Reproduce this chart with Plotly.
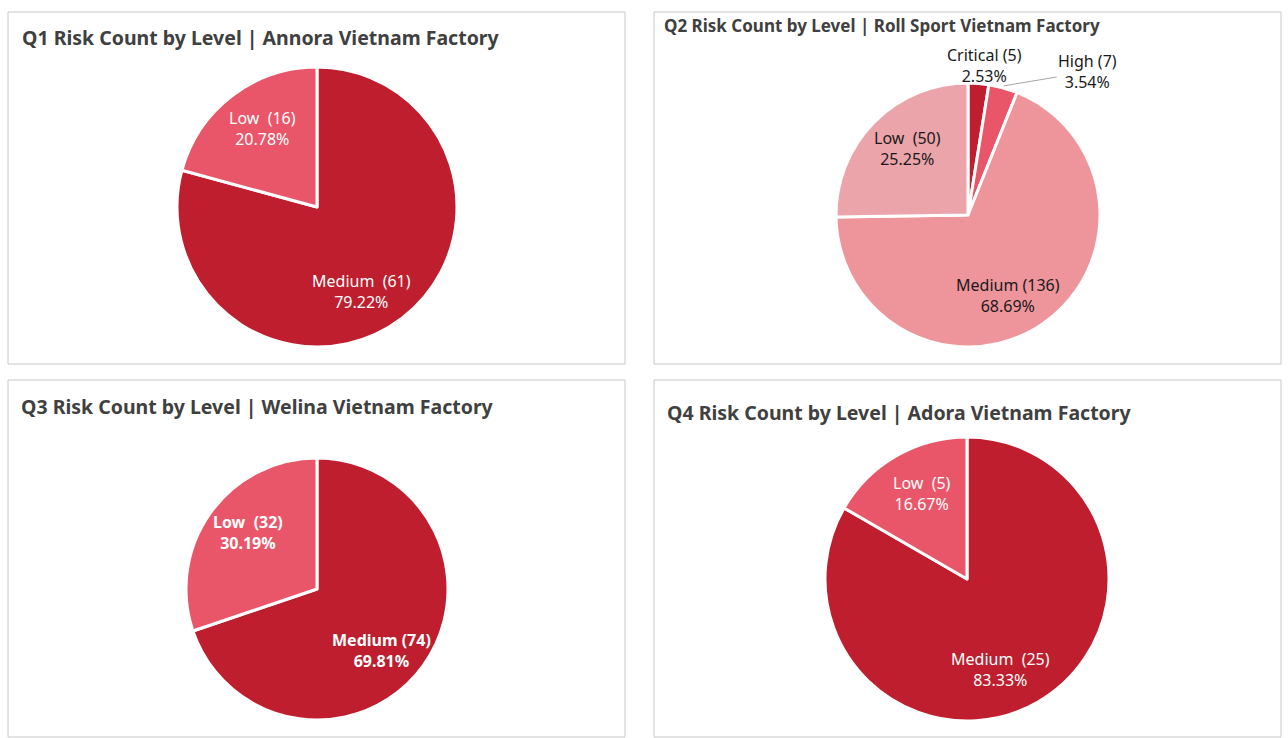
import math
import plotly.graph_objects as go

W, H = 1288, 738

# ---- data ----
q1_levels = ['Medium', 'Low']
q1_counts = [61, 16]
q2_levels = ['Critical', 'High', 'Medium', 'Low']
q2_counts = [5, 7, 136, 50]
q3_levels = ['Medium', 'Low']
q3_counts = [74, 32]
q4_levels = ['Medium', 'Low']
q4_counts = [25, 5]

titles = [
    'Q1 Risk Count by Level | Annora Vietnam Factory',
    'Q2 Risk Count by Level | Roll Sport Vietnam Factory',
    'Q3 Risk Count by Level | Welina Vietnam Factory',
    'Q4 Risk Count by Level | Adora Vietnam Factory',
]

# ---- styles ----
DARK = '#BE1E2D'
LOW = '#E9566A'
q2_colors = ['#BE1E2D', '#E9566A', '#EE949B', '#EBA4AA']
FONT = 'Noto Sans'
SP1 = ' '
SP2 = '\u00a0\u00a0'

# panel boxes in pixels (x0, y0, x1, y1)
panels = [(8, 12, 625, 364), (654, 12, 1281, 364), (8, 380, 625, 737), (654, 380, 1281, 737)]
# pie centers / radius in pixels
pies = [(317, 207, 140), (968, 215, 132), (317, 589, 131), (967, 579, 142)]
# title anchor (left x, center y, size)
title_pos = [(20, 38, 19.5), (662, 26, 17), (19, 406, 19.5), (665, 412, 19.5)]

charts = [
    dict(levels=q1_levels, counts=q1_counts, colors=[DARK, LOW], gaps=[SP2, SP2],
         color='white', bold=False, outside=[]),
    dict(levels=q2_levels, counts=q2_counts, colors=q2_colors, gaps=[SP1, SP1, SP1, SP2],
         color='#1a1a1a', bold=False, outside=[0, 1]),
    dict(levels=q3_levels, counts=q3_counts, colors=[DARK, LOW], gaps=[SP1, SP2],
         color='white', bold=True, outside=[]),
    dict(levels=q4_levels, counts=q4_counts, colors=[DARK, LOW], gaps=[SP2, SP2],
         color='white', bold=False, outside=[]),
]


def dom(cx, cy, r):
    return dict(x=[(cx - r) / W, (cx + r) / W], y=[1 - (cy + r) / H, 1 - (cy - r) / H])


fig = go.Figure()
annotations = []

for ch, (cx, cy, r) in zip(charts, pies):
    fig.add_trace(go.Pie(
        labels=ch['levels'], values=ch['counts'], sort=False, direction='clockwise', rotation=0,
        marker=dict(colors=ch['colors'], line=dict(color='white', width=3)),
        textinfo='none', domain=dom(cx, cy, r), showlegend=False,
        hoverinfo='label+value+percent',
    ))

    # data labels placed near each slice's mid angle (best-fit style)
    total = sum(ch['counts'])
    start = 0.0
    for i, (lvl, cnt) in enumerate(zip(ch['levels'], ch['counts'])):
        share = cnt / total
        span = share * 360
        mid = math.radians(start + span / 2)
        start += span
        txt = f"{lvl}{ch['gaps'][i]}({cnt})<br>{share * 100:.2f}%"
        if ch['bold']:
            txt = '<b>' + txt + '</b>'
        font = dict(family=FONT, size=16, color=ch['color'])
        if i in ch['outside']:
            ex = cx + (r + 2) * math.sin(mid)
            ey = cy - (r + 2) * math.cos(mid)
            if i == 0:
                annotations.append(dict(text=txt, xref='paper', yref='paper',
                                        x=ex / W, y=1 - ey / H, xanchor='center', yanchor='bottom',
                                        xshift=6, yshift=-8, showarrow=False, font=font, align='center'))
            else:
                annotations.append(dict(text=txt, xref='paper', yref='paper',
                                        x=ex / W, y=1 - ey / H, ax=84, ay=-14, axref='pixel',
                                        showarrow=True, arrowhead=0, arrowwidth=1,
                                        arrowcolor='#A6A6A6', font=font, align='center'))
        else:
            ang = mid + math.radians(12 * share)
            lx = cx + 0.68 * r * math.sin(ang)
            ly = cy - 0.68 * r * math.cos(ang)
            annotations.append(dict(text=txt, xref='paper', yref='paper',
                                    x=lx / W, y=1 - ly / H, xanchor='center', yanchor='middle',
                                    showarrow=False, font=font, align='center'))

shapes = []
for x0, y0, x1, y1 in panels:
    shapes.append(dict(type='rect', xref='paper', yref='paper',
                       x0=x0 / W, x1=x1 / W, y0=1 - y1 / H, y1=1 - y0 / H,
                       line=dict(color='#C8C8C8', width=1), fillcolor='rgba(0,0,0,0)', layer='below'))

for t, (tx, ty, ts) in zip(titles, title_pos):
    annotations.append(dict(text='<b>' + t + '</b>', xref='paper', yref='paper',
                            x=tx / W, y=1 - ty / H, xanchor='left', yanchor='middle',
                            showarrow=False, font=dict(family=FONT, size=ts, color='#404040')))

fig.update_layout(
    width=W, height=H,
    margin=dict(l=0, r=0, t=0, b=0),
    paper_bgcolor='white', plot_bgcolor='white',
    shapes=shapes, annotations=annotations,
)

fig.write_html("out.html", config={'displayModeBar': False},
               post_script="document.body.style.margin='0px';")
